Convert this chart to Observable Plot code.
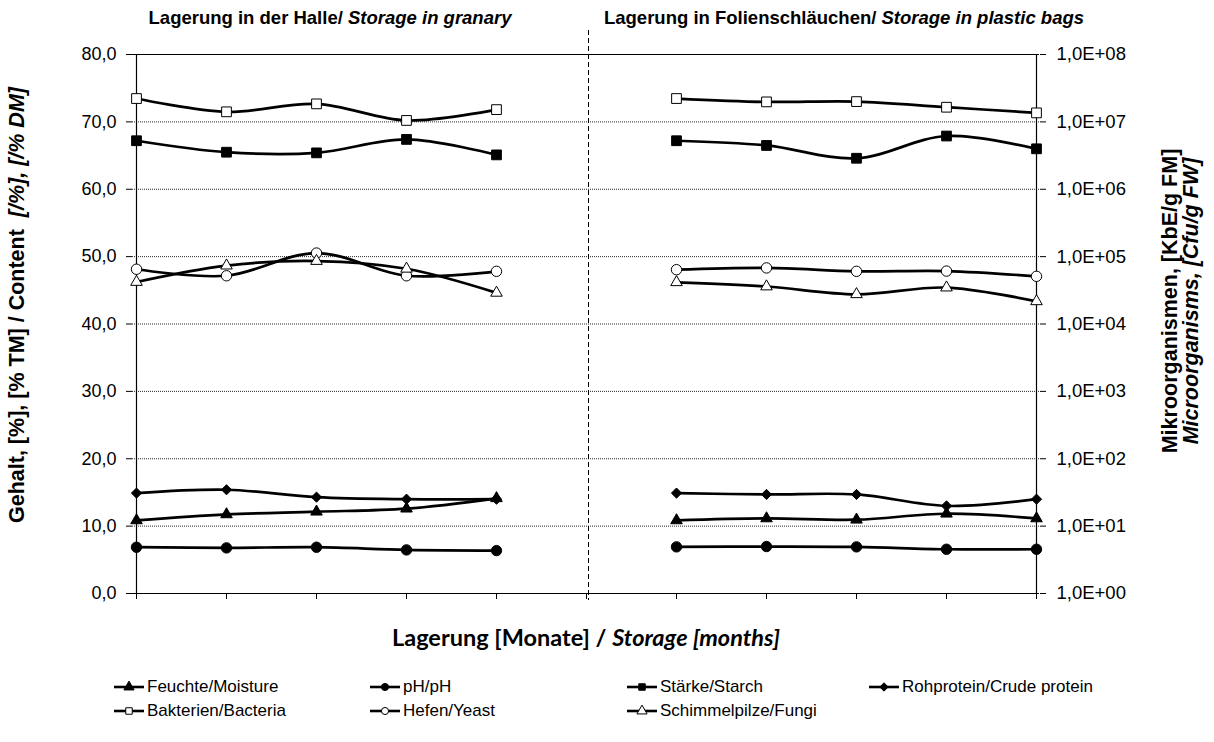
<!DOCTYPE html>
<html>
<head>
<meta charset="utf-8">
<script src="https://cdn.jsdelivr.net/npm/d3@7"></script>
<script src="https://cdn.jsdelivr.net/npm/@observablehq/plot@0.6"></script>
<style>
  html, body { margin: 0; padding: 0; background: #fff; }
  #wrap { position: relative; width: 1214px; height: 742px; overflow: hidden;
          font-family: "Liberation Sans", Arial, sans-serif; color: #000; }
  #chart { position: absolute; left: 0; top: 0; }
  .t { position: absolute; white-space: nowrap; font-weight: bold; }
  .sub { font-size: 18.5px; line-height: 22px; transform: translateX(-50%); }
  .rot { font-size: 21.5px; line-height: 21px; text-align: center;
         transform: translate(-50%, -50%) rotate(-90deg); }
  .xt { font-family: Lato, "Open Sans", sans-serif; font-size: 23.5px; line-height: 26px;
        transform: translate(-50%, -50%); }
  .leg { position: absolute; display: flex; align-items: center; white-space: nowrap;
         font-family: "Liberation Sans", Arial, sans-serif;
         font-size: 17px; transform: translateY(-50%); }
  .leg svg { margin-right: 3px; }
</style>
</head>
<body>
<div id="wrap">
  <div id="chart"></div>
  <div class="t sub" style="left:330px; top:7px;">Lagerung in der Halle/ <i>Storage in granary</i></div>
  <div class="t sub" style="left:844px; top:7px;">Lagerung in Folienschläuchen/ <i>Storage in plastic bags</i></div>
  <div class="t rot" style="left:17px; top:305px;">Gehalt, [%], [% TM] / Content&nbsp; <i>[/%], [/% DM]</i></div>
  <div class="t rot" style="left:1181px; top:301px;">Mikroorganismen, [KbE/g FM]<br><i>Microorganisms, [Cfu/g FW]</i></div>
  <div class="t xt" style="left:586px; top:637px;">Lagerung [Monate] / <i>Storage [months]</i></div>
  <div id="legend"></div>
</div>
<script>
// ---- categories (storage sampling slots; no tick labels shown) ----
const halleSlots = ["H1", "H2", "H3", "H4", "H5"];
const gapSlot = "Trenner";
const folieSlots = ["F1", "F2", "F3", "F4", "F5"];

// ---- left axis series (content, %) ----
const feuchteHalle  = [10.85, 11.74, 12.14, 12.59, 14.13];
const feuchteFolie  = [10.85, 11.14, 10.95, 11.84, 11.14];
const phHalle       = [6.87, 6.77, 6.87, 6.47, 6.37];
const phFolie       = [6.92, 6.97, 6.92, 6.57, 6.57];
const staerkeHalle  = [67.2, 65.5, 65.4, 67.4, 65.1];
const staerkeFolie  = [67.2, 66.5, 64.6, 67.9, 66.0];
const proteinHalle  = [14.9, 15.4, 14.3, 14.0, 14.0];
const proteinFolie  = [14.9, 14.7, 14.7, 13.0, 14.0];

// ---- right axis series (microorganisms, cfu/g, log scale) ----
const bakterienHalle = [2.22e7, 1.41e7, 1.85e7, 1.05e7, 1.52e7];
const bakterienFolie = [2.22e7, 1.98e7, 2.00e7, 1.65e7, 1.36e7];
const hefenHalle     = [6.5e4, 5.2e4, 1.13e5, 5.2e4, 6.05e4];
const hefenFolie     = [6.4e4, 6.8e4, 6.05e4, 6.1e4, 5.1e4];
const pilzeHalle     = [4.2e4, 7.35e4, 8.6e4, 6.6e4, 2.9e4];
const pilzeFolie     = [4.16e4, 3.6e4, 2.76e4, 3.47e4, 2.17e4];

// ---- tick values ----
const leftTicks = [0, 10, 20, 30, 40, 50, 60, 70, 80];
const rightExponents = [0, 1, 2, 3, 4, 5, 6, 7, 8];
const gridTicks = [10, 20, 30, 40, 50, 60, 70];

// left axis spans 0..80, right axis spans 10^0..10^8 → 10 left units per decade
const unitsPerDecade = 10;

const seriesNames = ["Feuchte/Moisture", "pH/pH", "Stärke/Starch", "Rohprotein/Crude protein",
                     "Bakterien/Bacteria", "Hefen/Yeast", "Schimmelpilze/Fungi"];
const seriesHalle = [feuchteHalle, phHalle, staerkeHalle, proteinHalle, bakterienHalle, hefenHalle, pilzeHalle];
const seriesFolie = [feuchteFolie, phFolie, staerkeFolie, proteinFolie, bakterienFolie, hefenFolie, pilzeFolie];
const seriesAxis  = ["left", "left", "left", "left", "right", "right", "right"];
const seriesSymbol = ["triangle", "circle", "square", "diamond2", "square", "circle", "triangle"];
const seriesFill   = ["black", "black", "black", "black", "white", "white", "white"];
const symbolR = { triangle: 4.3, circle: 5.2, square: 5.5, diamond2: 4.6 };

const rows = [];
seriesNames.forEach((name, s) => {
  [[halleSlots, seriesHalle[s], "Halle"], [folieSlots, seriesFolie[s], "Folie"]].forEach(([slots, vals, grp]) => {
    vals.forEach((v, i) => {
      rows.push({
        series: name, idx: s, group: grp, slot: slots[i], value: v,
        pos: seriesAxis[s] === "right" ? Math.log10(v) * unitsPerDecade : v
      });
    });
  });
});

const fmtLeft = d => d3.format(".1f")(d).replace(".", ",");
const fmtRight = d => "1,0E+" + String(d / unitsPerDecade).padStart(2, "0");

const marks = [
  Plot.ruleY(gridTicks, { stroke: "#000", strokeWidth: 1, strokeDasharray: "1,1", strokeOpacity: 0.85 }),
  Plot.ruleY([80], { stroke: "#000", strokeWidth: 1 }),
  Plot.ruleY([0], { stroke: "#000", strokeWidth: 1.2 }),
  Plot.ruleX([halleSlots[0]], { stroke: "#000", strokeWidth: 1.2 }),
  Plot.ruleX([folieSlots[folieSlots.length - 1]], { stroke: "#000", strokeWidth: 1.2 }),
  Plot.ruleX([gapSlot], { stroke: "#000", strokeWidth: 1, strokeDasharray: "5,3", insetTop: -24, insetBottom: -7, dx: 2 }),
  Plot.axisY({ anchor: "left", ticks: leftTicks, tickFormat: fmtLeft, tickSize: 6, tickPadding: 10, label: null, fontSize: 18 }),
  Plot.axisY({ anchor: "right", ticks: rightExponents.map(e => e * unitsPerDecade), tickFormat: fmtRight, tickSize: 6, tickPadding: 11, label: null, fontSize: 18.5 }),
  Plot.axisX({ ticks: [...halleSlots, gapSlot, ...folieSlots], tickFormat: () => "", tickSize: 6, label: null }),
  Plot.line(rows, { x: "slot", y: "pos", z: d => d.series + d.group, stroke: "#000", strokeWidth: 2.7, curve: "catmull-rom" })
];
seriesNames.forEach((name, s) => {
  marks.push(Plot.dot(rows.filter(d => d.idx === s), {
    x: "slot", y: "pos", symbol: () => seriesSymbol[s], r: symbolR[seriesSymbol[s]],
    fill: seriesFill[s], stroke: "#000", strokeWidth: 1
  }));
});

const chart = Plot.plot({
  width: 1214, height: 612,
  marginTop: 54, marginBottom: 19, marginLeft: 132, marginRight: 175,
  style: { fontFamily: "'Liberation Sans', Arial, sans-serif", fontSize: "18px", background: "transparent", color: "#000" },
  x: { type: "point", domain: [...halleSlots, gapSlot, ...folieSlots], padding: 0 },
  y: { domain: [0, 80] },
  symbol: { type: "identity" },
  marks
});
document.getElementById("chart").appendChild(chart);

// ---- legend ----
const legCols = [114, 370, 627, 869];
const legRows = [687, 711];
const legendEl = document.getElementById("legend");
const symbolMap = { triangle: d3.symbolTriangle, circle: d3.symbolCircle, square: d3.symbolSquare, diamond2: d3.symbolDiamond2 };
const legSize = { triangle: 45, circle: 40, square: 42, diamond2: 45 };
seriesNames.forEach((name, s) => {
  const col = s % 4, row = Math.floor(s / 4);
  const item = document.createElement("div");
  item.className = "leg";
  item.style.left = legCols[col] + "px";
  item.style.top = legRows[row] + "px";
  const svg = d3.create("svg").attr("width", 30).attr("height", 14);
  svg.append("line").attr("x1", 0).attr("x2", 30).attr("y1", 7).attr("y2", 7).attr("stroke", "#000").attr("stroke-width", 2.6);
  svg.append("path").attr("transform", "translate(15,7)")
     .attr("d", d3.symbol(symbolMap[seriesSymbol[s]], legSize[seriesSymbol[s]])())
     .attr("fill", seriesFill[s]).attr("stroke", "#000").attr("stroke-width", 1);
  item.appendChild(svg.node());
  const span = document.createElement("span");
  span.textContent = name;
  item.appendChild(span);
  legendEl.appendChild(item);
});
</script>
</body>
</html>
